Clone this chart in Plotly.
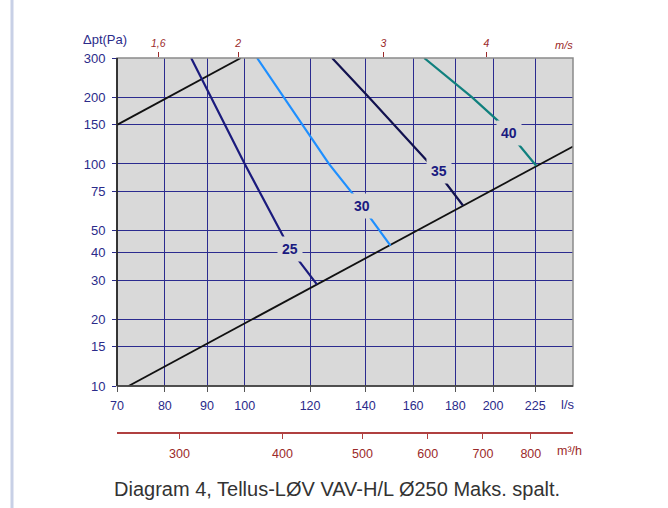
import math
import plotly.graph_objects as go

# ---- data ----
# flow in l/s, pressure drop in Pa
q25 = [86.1, 100.0, 111.4, 116.1, 122.3]
p25 = [300, 100, 47.0, 37.0, 28.7]

q30 = [103.5, 111.5, 117.6, 126.5, 135.5, 142.2, 150.2]
p30 = [300, 200, 150, 100, 72.6, 56.6, 42.9]

q35 = [127.6, 141.3, 166.3, 175.1, 183.9]
p35 = [300, 200, 103.4, 82.5, 65.0]

q40 = [165.0, 188.5, 203.1, 214.1, 225.6]
p40 = [300, 200, 155.5, 124.2, 98.1]

# black system lines
qa = [70, 98.9]
pa = [150, 300]
qb = [72.3, 250]
pb = [10, 119.9]

curve_labels = ["25", "30", "35", "40"]
label_q = [113.6, 138.7, 171.8, 209.0]
label_p = [41.6, 64.8, 93.2, 138.2]

x_ticks = [70, 80, 90, 100, 120, 140, 160, 180, 200, 225]
y_ticks = [10, 15, 20, 30, 40, 50, 75, 100, 150, 200, 300]
v_ticks = [1.6, 2, 3, 4]
v_text = ["1,6", "2", "3", "4"]
m3h_ticks = [300, 400, 500, 600, 700, 800]

x_min, x_max = 70, 250
y_min, y_max = 10, 300
diameter = 0.25  # m
area = math.pi * (diameter / 2) ** 2

NAVY = "#2b2b8a"
GRID = "#2b2b8f"
RED = "#9b2a2a"
FONT = "Arial, Liberation Sans, sans-serif"

fig = go.Figure()

def line(q, p, color, width=2.2):
    fig.add_trace(go.Scatter(x=q, y=p, mode="lines",
                             line=dict(color=color, width=width),
                             hoverinfo="skip", showlegend=False))

line(qa, pa, "#111111", 1.8)
line(qb, pb, "#111111", 1.8)
line(q25, p25, "#1b1b7d")
line(q30, p30, "#1e8fff")
line(q35, p35, "#12124f")
line(q40, p40, "#10807e")

# invisible helper traces so the secondary (m/s and m³/h) axes are drawn
fig.add_trace(go.Scatter(x=v_ticks, y=[y_min] * len(v_ticks), xaxis="x2", yaxis="y",
                         mode="markers", marker=dict(opacity=0), hoverinfo="skip",
                         showlegend=False))
fig.add_trace(go.Scatter(x=m3h_ticks, y=[y_min] * len(m3h_ticks), xaxis="x3", yaxis="y",
                         mode="markers", marker=dict(opacity=0), hoverinfo="skip",
                         showlegend=False))

ann = []
for t, q, p in zip(curve_labels, label_q, label_p):
    ann.append(dict(x=math.log10(q), y=math.log10(p), xref="x", yref="y",
                    text="<b>%s</b>" % t, showarrow=False,
                    xanchor="center", yanchor="middle",
                    font=dict(family=FONT, size=14, color="#1a1a80"),
                    bgcolor="#d9d9d9", borderpad=4))

def pann(px, py, text, font):
    return dict(x=(px - 117) / 456, y=(433 - py) / 375, xref="paper", yref="paper",
                text=text, showarrow=False, xanchor="center", yanchor="middle",
                font=font)

ann += [
    pann(105, 40, "Δpt(Pa)", dict(family=FONT, size=13, color=NAVY)),
    pann(568, 404, "l/s", dict(family=FONT, size=13, color=NAVY)),
    pann(564, 45, "m/s", dict(family=FONT, size=11, color=RED, style="italic")),
    pann(569, 451, "m³/h", dict(family=FONT, size=12.5, color=RED)),
    pann(337, 489, "Diagram 4, Tellus-LØV VAV-H/L Ø250 Maks. spalt.",
         dict(family=FONT, size=20, color="#333333")),
]

shapes = [
    dict(type="rect", xref="x domain", yref="y domain", x0=0, x1=1, y0=0, y1=1,
         line=dict(color="#8a8a8a", width=1.5), layer="above"),
    dict(type="line", xref="x domain", yref="y domain", x0=0, x1=0, y0=0, y1=1,
         line=dict(color="#111111", width=1.5), layer="above"),
    dict(type="line", xref="x domain", yref="y domain", x0=0, x1=1, y0=0, y1=0,
         line=dict(color="#333333", width=1.5), layer="above"),
    dict(type="line", xref="paper", yref="paper",
         x0=(12 - 117) / 456, x1=(12 - 117) / 456, y0=-0.25, y1=1.2,
         line=dict(color="#c8d0e6", width=3), layer="above"),
]

y_dom0 = (433 - 386) / 375

fig.update_layout(
    width=668, height=508,
    margin=dict(l=117, r=95, t=58, b=75, pad=0),
    paper_bgcolor="white", plot_bgcolor="#d9d9d9",
    font=dict(family=FONT),
    showlegend=False,
    annotations=ann, shapes=shapes,
    xaxis=dict(type="log", range=[math.log10(x_min), math.log10(x_max)],
               tickvals=x_ticks, ticktext=[str(v) for v in x_ticks],
               showgrid=True, gridcolor=GRID, gridwidth=1,
               ticks="outside", ticklen=5, tickcolor="#555555",
               tickfont=dict(family=FONT, size=12.5, color=NAVY),
               showline=False, zeroline=False, anchor="y",
               ticklabelstandoff=3, automargin=False),
    xaxis2=dict(type="log", overlaying="x", side="top", anchor="y",
                range=[math.log10(x_min / 1000 / area), math.log10(x_max / 1000 / area)],
                tickvals=v_ticks, ticktext=v_text,
                showgrid=False, zeroline=False, showline=False,
                ticks="outside", ticklen=5, tickcolor=RED,
                tickfont=dict(family=FONT, size=10.5, color=RED, style="italic"),
                ticklabelstandoff=1, automargin=False),
    xaxis3=dict(type="log", overlaying="x", anchor="free", position=0,
                range=[math.log10(x_min * 3.6), math.log10(x_max * 3.6)],
                tickvals=m3h_ticks, ticktext=[str(v) for v in m3h_ticks],
                showgrid=False, zeroline=False, showline=True,
                linecolor="#b04040", linewidth=1.5,
                ticks="outside", ticklen=5, tickcolor="#b04040",
                tickfont=dict(family=FONT, size=12.5, color=RED),
                ticklabelstandoff=4, automargin=False),
    yaxis=dict(type="log", range=[math.log10(y_min), math.log10(y_max)],
               domain=[y_dom0, 1],
               tickvals=y_ticks, ticktext=[str(v) for v in y_ticks],
               showgrid=True, gridcolor=GRID, gridwidth=1,
               ticks="outside", ticklen=4, tickcolor=NAVY,
               tickfont=dict(family=FONT, size=13, color=NAVY),
               showline=False, zeroline=False, ticklabelstandoff=4,
               automargin=False),
)

fig.write_html("out.html", config={"displayModeBar": False},
               post_script="document.body.style.margin='0px';document.body.style.padding='0px';")
